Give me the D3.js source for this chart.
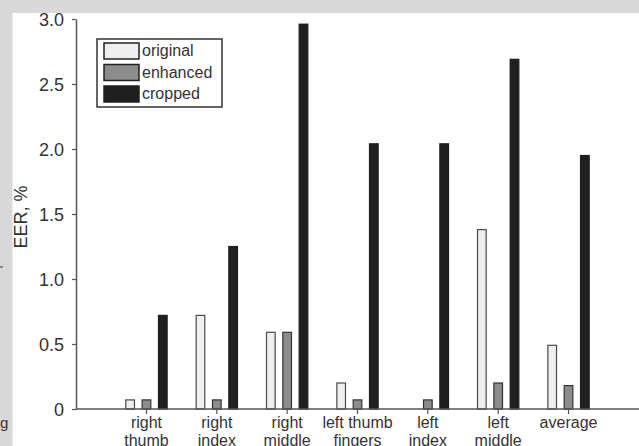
<!DOCTYPE html>
<html lang="en"><head><meta charset="UTF-8">
<title>EER per finger</title>
<script src="https://cdn.jsdelivr.net/npm/d3@7"></script>
<style>
  body { margin: 0; background: #d9d9d9; }
  svg text { font-family: "Liberation Sans", Arial, sans-serif; fill: #333; }
</style>
</head>
<body>
<script>
// data
var fingers = ["right thumb", "right index", "right middle", "left thumb fingers", "left index", "left middle", "average"];
var fingerLines = [["right", "thumb"], ["right", "index"], ["right", "middle"], ["left thumb", "fingers"], ["left", "index"], ["left", "middle"], ["average"]];
var series = ["original", "enhanced", "cropped"];
var original = [0.07, 0.72, 0.59, 0.20, 0, 1.38, 0.49];
var enhanced = [0.07, 0.07, 0.59, 0.07, 0.07, 0.20, 0.18];
var cropped  = [0.72, 1.25, 2.96, 2.04, 2.04, 2.69, 1.95];
var yTicks = [0, 0.5, 1.0, 1.5, 2.0, 2.5, 3.0];

var w = 639, h = 446;
var fills = { original: "#efefef", enhanced: "#8c8c8c", cropped: "#1f1f1f" };
var strokes = { original: "#4a4a4a", enhanced: "#333", cropped: "#1f1f1f" };

var svg = d3.select("body").append("svg").attr("width", w).attr("height", h);

// page background and white panel
svg.append("rect").attr("width", w).attr("height", h).attr("fill", "#d9d9d9");
svg.append("rect").attr("x", 12.5).attr("y", 13).attr("width", w).attr("height", h).attr("fill", "#fff");
// bits of page text cut off on the left
svg.append("text").attr("x", 0).attr("y", 428).style("font-size", "15px").text("g");
svg.append("line").attr("x1", 0).attr("x2", 3).attr("y1", 267).attr("y2", 267).attr("stroke", "#333");

var x = d3.scaleBand().domain(fingers).range([111.3, 603.7]).paddingInner(0).paddingOuter(0);
var xs = d3.scaleBand().domain(series).range([-24.5, 24.5]).paddingInner(0.47).paddingOuter(0.235);
var y = d3.scaleLinear().domain([0, 3]).range([409, 19]);

var rows = fingers.map(function(f, i) {
  return { finger: f, vals: [
    { s: "original", v: original[i] },
    { s: "enhanced", v: enhanced[i] },
    { s: "cropped", v: cropped[i] } ] };
});

// bars
var g = svg.selectAll("g.grp").data(rows).enter().append("g")
  .attr("class", "grp")
  .attr("transform", function(d) { return "translate(" + (x(d.finger) + x.bandwidth() / 2) + ",0)"; });
g.selectAll("rect").data(function(d) { return d.vals.filter(function(e) { return e.v > 0; }); })
  .enter().append("rect")
  .attr("x", function(d) { return xs(d.s); })
  .attr("width", xs.bandwidth())
  .attr("y", function(d) { return y(d.v); })
  .attr("height", function(d) { return y(0) - y(d.v); })
  .attr("fill", function(d) { return fills[d.s]; })
  .attr("stroke", function(d) { return strokes[d.s]; })
  .attr("stroke-width", 1.2);

// y axis
var yAxis = svg.append("g").attr("transform", "translate(76,0)")
  .call(d3.axisLeft(y).tickValues(yTicks).tickSize(4).tickSizeOuter(0)
    .tickFormat(function(d) { return d === 0 ? "0" : d3.format(".1f")(d); }));
yAxis.selectAll("text").style("font-size", "18px").attr("x", -12).attr("dy", "0.36em");

// x axis
var xAxis = svg.append("g").attr("transform", "translate(0,409)");
xAxis.append("line").attr("x1", 76).attr("x2", w).attr("y1", 0).attr("y2", 0).attr("stroke", "#555").attr("stroke-width", 1.5);
var xt = xAxis.selectAll("g.tick").data(fingers).enter().append("g")
  .attr("transform", function(d) { return "translate(" + (x(d) + x.bandwidth() / 2) + ",0)"; });
xt.append("line").attr("y2", 5).attr("stroke", "#555").attr("stroke-width", 1.2);
xt.append("text").attr("text-anchor", "middle").style("font-size", "16px")
  .selectAll("tspan").data(function(d, i) { return fingerLines[i]; }).enter().append("tspan")
  .attr("x", 0).attr("y", function(d, i) { return 19 + i * 18; }).text(function(d) { return d; });

yAxis.select(".domain").attr("stroke", "#555").attr("stroke-width", 1.5);
yAxis.selectAll(".tick line").attr("stroke", "#555").attr("stroke-width", 1.2);

// y label
svg.append("text").attr("transform", "translate(27,217) rotate(-90)")
  .attr("text-anchor", "middle").style("font-size", "18px").text("EER, %");

// legend
var lg = svg.append("g").attr("transform", "translate(97,39)");
lg.append("rect").attr("width", 125).attr("height", 68).attr("fill", "#fff").attr("stroke", "#333").attr("stroke-width", 1.5);
var li = lg.selectAll("g.item").data(series).enter().append("g")
  .attr("transform", function(d, i) { return "translate(7," + (4 + i * 21.5) + ")"; });
li.append("rect").attr("width", 35).attr("height", 16)
  .attr("fill", function(d) { return fills[d]; }).attr("stroke", "#222").attr("stroke-width", 1.5);
li.append("text").attr("x", 38).attr("y", 13).style("font-size", "16px").text(function(d) { return d; });
</script>
</body></html>
